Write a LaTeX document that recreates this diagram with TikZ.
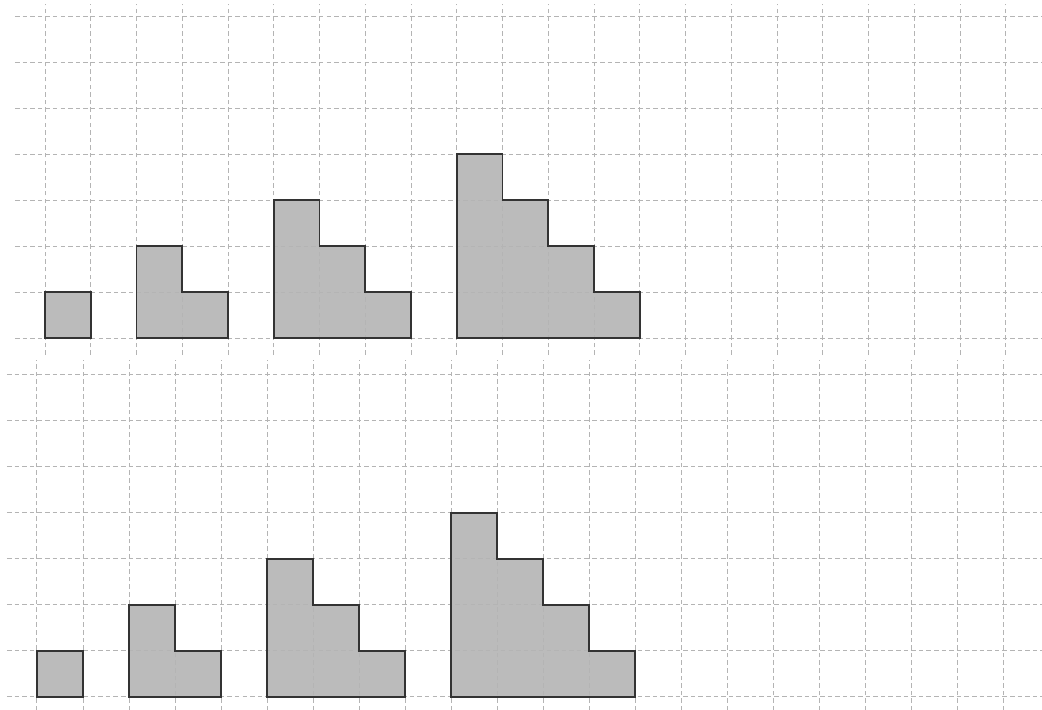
\documentclass[tikz,border=0pt]{standalone}
\usepackage{tikz}
\definecolor{gridgray}{HTML}{B4B4B4}
\definecolor{stairgray}{HTML}{BBBBBB}
\definecolor{stairedge}{HTML}{333333}
\tikzset{
  gridline/.style={draw=gridgray, line width=0.6pt, dash pattern=on 2.8pt off 1.9pt},
  stairfill/.style={fill=stairgray, draw=none},
  stairline/.style={draw=stairedge, line width=1.2pt, line join=miter}
}
% staircase of #3 steps, left column at #2
\newcommand{\stairs}[3]{\path[#1] (#2,0) -- ++(0,#3) \foreach \s in {1,...,#3}{ -- ++(1,0) -- ++(0,-1)} -- cycle;}

\begin{document}
\begin{tikzpicture}
  \useasboundingbox (0,0) rectangle (22.652,15.413);
  \clip (0,0) rectangle (22.652,15.413);
  % upper sheet
  \begin{scope}[shift={(0.978,8.065)}, xscale=0.9946]
    \foreach \c/\h in {0/1,2/2,5/3,9/4} {\stairs{stairfill}{\c}{\h}}
    \foreach \k in {0,...,21} \draw[gridline] (\k,-0.37) -- (\k,7.26);
    \foreach \j in {0,...,7} \draw[gridline] (-0.656,\j) -- (21.79,\j);
    \foreach \c/\h in {0/1,2/2,5/3,9/4} {\stairs{stairline}{\c}{\h}}
  \end{scope}
  % lower sheet
  \begin{scope}[shift={(0.804,0.267)}]
    \foreach \c/\h in {0/1,2/2,5/3,9/4} {\stairs{stairfill}{\c}{\h}}
    \foreach \k in {0,...,21} \draw[gridline] (\k,-0.3) -- (\k,7.32);
    \foreach \j in {0,...,7} \draw[gridline] (-0.652,\j) -- (21.85,\j);
    \foreach \c/\h in {0/1,2/2,5/3,9/4} {\stairs{stairline}{\c}{\h}}
  \end{scope}
\end{tikzpicture}
\end{document}
